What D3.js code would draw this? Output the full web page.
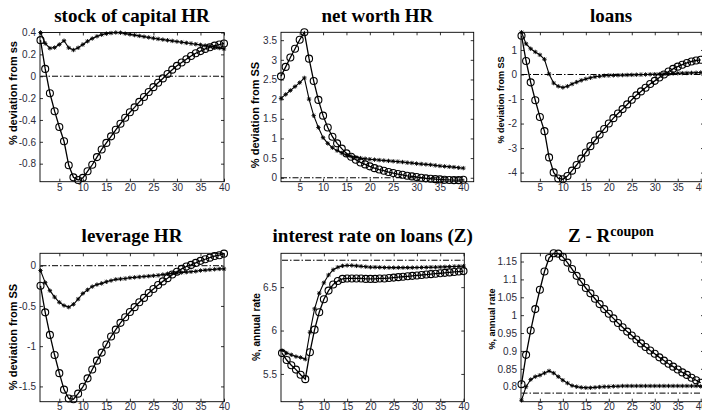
<!DOCTYPE html>
<html><head><meta charset="utf-8">
<script src="https://cdn.jsdelivr.net/npm/d3@7"></script>
<style>
html,body{margin:0;padding:0;background:#fff;}
svg{display:block;}
</style></head>
<body>
<svg id="chart" width="702" height="412"></svg>
<script>
// ---- data ----
const periods = d3.range(1, 41);
const xTicks = [5,10,15,20,25,30,35,40];

const capA = [0.33,0.067,-0.156,-0.32,-0.464,-0.595,-0.815,-0.925,-0.95,-0.93,-0.87,-0.81,-0.74,-0.67,-0.61,-0.55,-0.49,-0.435,-0.38,-0.33,-0.285,-0.235,-0.19,-0.145,-0.10,-0.06,-0.02,0.02,0.06,0.095,0.125,0.155,0.185,0.21,0.23,0.25,0.265,0.28,0.29,0.30];
const capB = [0.40,0.30,0.256,0.262,0.29,0.325,0.26,0.24,0.26,0.29,0.32,0.345,0.365,0.38,0.39,0.395,0.40,0.398,0.39,0.383,0.376,0.369,0.362,0.355,0.348,0.341,0.335,0.329,0.323,0.317,0.311,0.305,0.299,0.293,0.287,0.281,0.274,0.267,0.258,0.25];
const capTicks = [-0.8,-0.6,-0.4,-0.2,0,0.2,0.4];

const nwA = [2.58,2.82,3.06,3.28,3.51,3.70,3.03,2.46,1.98,1.58,1.28,1.045,0.875,0.74,0.62,0.535,0.46,0.39,0.34,0.29,0.245,0.21,0.18,0.145,0.12,0.095,0.075,0.05,0.035,0.02,0.0,-0.015,-0.025,-0.035,-0.04,-0.05,-0.055,-0.06,-0.06,-0.05];
const nwB = [2.02,2.12,2.22,2.32,2.42,2.54,2.0,1.58,1.28,1.02,0.875,0.765,0.69,0.63,0.58,0.545,0.52,0.50,0.485,0.47,0.46,0.45,0.44,0.43,0.42,0.41,0.40,0.385,0.375,0.36,0.35,0.34,0.33,0.315,0.30,0.29,0.28,0.27,0.255,0.245];
const nwTicks = [0,0.5,1,1.5,2,2.5,3,3.5];

const loansA = [1.58,0.55,-0.32,-1.05,-1.73,-2.31,-3.38,-3.99,-4.24,-4.27,-4.14,-3.92,-3.69,-3.43,-3.18,-2.92,-2.69,-2.45,-2.22,-2.0,-1.78,-1.59,-1.41,-1.22,-1.03,-0.85,-0.69,-0.54,-0.39,-0.26,-0.12,0.0,0.12,0.23,0.32,0.40,0.47,0.53,0.57,0.6];
const loansB = [1.72,1.25,1.05,0.92,0.80,0.62,0.02,-0.35,-0.48,-0.53,-0.48,-0.39,-0.31,-0.24,-0.18,-0.135,-0.095,-0.07,-0.05,-0.04,-0.035,-0.03,-0.025,-0.02,-0.015,-0.01,-0.005,0.0,0.005,0.01,0.015,0.02,0.03,0.04,0.05,0.055,0.06,0.065,0.07,0.08];
const loansTicks = [-4,-3,-2,-1,0,1];

const levA = [-0.25,-0.58,-0.86,-1.11,-1.335,-1.54,-1.65,-1.66,-1.59,-1.505,-1.40,-1.29,-1.18,-1.08,-0.98,-0.88,-0.795,-0.71,-0.64,-0.575,-0.515,-0.455,-0.40,-0.34,-0.29,-0.24,-0.195,-0.155,-0.11,-0.075,-0.04,-0.01,0.01,0.035,0.06,0.08,0.10,0.12,0.13,0.15];
const levB = [-0.06,-0.21,-0.31,-0.39,-0.455,-0.495,-0.515,-0.48,-0.415,-0.345,-0.30,-0.26,-0.235,-0.22,-0.20,-0.185,-0.17,-0.165,-0.16,-0.15,-0.145,-0.14,-0.135,-0.13,-0.125,-0.12,-0.11,-0.1,-0.095,-0.09,-0.085,-0.08,-0.075,-0.07,-0.06,-0.055,-0.05,-0.045,-0.04,-0.04];
const levTicks = [-1.5,-1,-0.5,0];

const rateA = [5.74,5.66,5.60,5.55,5.49,5.44,5.75,6.01,6.21,6.36,6.46,6.53,6.57,6.595,6.60,6.60,6.60,6.60,6.595,6.595,6.595,6.60,6.60,6.605,6.61,6.615,6.62,6.625,6.63,6.635,6.64,6.645,6.65,6.655,6.66,6.665,6.67,6.675,6.68,6.685];
const rateB = [5.77,5.74,5.72,5.70,5.69,5.67,5.98,6.25,6.43,6.55,6.64,6.70,6.73,6.745,6.75,6.75,6.745,6.74,6.735,6.73,6.73,6.728,6.726,6.725,6.725,6.725,6.725,6.725,6.725,6.726,6.727,6.728,6.729,6.73,6.732,6.734,6.736,6.738,6.74,6.742];
const rateSS = 6.81;
const rateTicks = [5.5,6,6.5];

const spreadA = [0.807,0.889,0.957,1.017,1.071,1.122,1.160,1.173,1.172,1.163,1.147,1.129,1.110,1.093,1.076,1.061,1.046,1.031,1.017,1.004,0.991,0.978,0.966,0.954,0.943,0.932,0.921,0.911,0.901,0.892,0.882,0.873,0.864,0.856,0.848,0.840,0.833,0.825,0.818,0.811];
const spreadB = [0.762,0.80,0.82,0.828,0.832,0.838,0.844,0.838,0.828,0.818,0.81,0.803,0.80,0.798,0.797,0.797,0.798,0.799,0.80,0.80,0.801,0.801,0.802,0.802,0.802,0.802,0.802,0.802,0.802,0.802,0.802,0.802,0.802,0.802,0.802,0.802,0.802,0.802,0.802,0.801];
const spreadSS = 0.782;
const spreadTicks = [0.8,0.85,0.9,0.95,1,1.05,1.1,1.15];

const titles = ["stock of capital HR","net worth HR","loans","leverage HR","interest rate on loans (Z)","Z - R"];
const yLabels = ["% deviation from ss","% deviation from SS","% deviation from SS","% deviation from SS","%, annual rate","%, annual rate"];

// ---- layout ----
const panels = [
  {a:capA, b:capB, ref:0, ticks:capTicks, ydom:[-0.965,0.4], xr:[40.5,224], box:[40,224], yr:[32.5,181.7], ly:[13,93,11]},
  {a:nwA, b:nwB, ref:0, ticks:nwTicks, ydom:[-0.1,3.7], xr:[281,463.3], box:[281,473.7], yr:[32.3,181.7], ly:[255,115,11]},
  {a:loansA, b:loansB, ref:0, ticks:loansTicks, ydom:[-4.37,1.72], xr:[521.5,700.7], box:[521,704], yr:[32.3,181.7], ly:[501,100,9]},
  {a:levA, b:levB, ref:0, ticks:levTicks, ydom:[-1.69,0.154], xr:[40.5,224], box:[40,224], yr:[253.3,401.7], ly:[13,337,11]},
  {a:rateA, b:rateB, ref:rateSS, ticks:rateTicks, ydom:[5.18,6.89], xr:[282,463.5], box:[281,464.3], yr:[253.3,401.7], ly:[256,327,10]},
  {a:spreadA, b:spreadB, ref:spreadSS, ticks:spreadTicks, ydom:[0.758,1.173], xr:[521.5,700.7], box:[521,704], yr:[253.3,401.7], ly:[492,319,9]}
];

const svg = d3.select("#chart");
const tickColor = "#2b2b3a";
const star = "M-2.2,0L2.2,0M0,-2.2L0,2.2M-1.6,-1.6L1.6,1.6M-1.6,1.6L1.6,-1.6";

panels.forEach((p, i) => {
  const x = d3.scaleLinear().domain([1,40]).range(p.xr);
  const y = d3.scaleLinear().domain(p.ydom).range([p.yr[1], p.yr[0]]);
  const g = svg.append("g");
  const [bl, br] = p.box, [bt, bb] = p.yr;

  // box
  g.append("rect").attr("x", bl).attr("y", bt).attr("width", br-bl).attr("height", bb-bt)
    .attr("fill","none").attr("stroke","#000").attr("stroke-width",0.9);

  const fmt = v => String(+v.toFixed(2));
  // axes
  const ax = g.append("g").attr("transform",`translate(0,${bb})`)
    .call(d3.axisBottom(x).tickValues(xTicks).tickSize(-3).tickSizeOuter(0).tickPadding(i < 3 ? 2.5 : 1.5).tickFormat(d3.format("d")));
  const axT = g.append("g").attr("transform",`translate(0,${bt})`)
    .call(d3.axisTop(x).tickValues(xTicks).tickSize(-3).tickSizeOuter(0).tickFormat(""));
  const ay = g.append("g").attr("transform",`translate(${bl},0)`)
    .call(d3.axisLeft(y).tickValues(p.ticks).tickSize(-3).tickSizeOuter(0).tickPadding(4).tickFormat(fmt));
  const ayR = g.append("g").attr("transform",`translate(${br},0)`)
    .call(d3.axisRight(y).tickValues(p.ticks).tickSize(-3).tickSizeOuter(0).tickFormat(""));
  [ax, axT, ay, ayR].forEach(a => {
    a.select(".domain").remove();
    a.selectAll(".tick line").attr("stroke","#000").attr("stroke-width",0.8);
    a.selectAll("text").attr("fill",tickColor).style("font-family","'Liberation Sans', Arial, sans-serif").style("font-size","10px");
  });

  // reference dash-dot
  g.append("line").attr("x1", x(1)).attr("x2", x(40)).attr("y1", y(p.ref)).attr("y2", y(p.ref))
    .attr("stroke","#000").attr("stroke-width",1).attr("stroke-dasharray","6,2,1.5,2");

  const line = d3.line().x((d,j)=>x(periods[j])).y(d=>y(d));
  g.append("path").datum(p.b).attr("d", line).attr("fill","none").attr("stroke","#000").attr("stroke-width",1.1);
  g.append("path").datum(p.a).attr("d", line).attr("fill","none").attr("stroke","#000").attr("stroke-width",1.3);

  g.selectAll(".st").data(p.b).join("path").attr("class","st")
    .attr("transform",(d,j)=>`translate(${x(periods[j])},${y(d)})`)
    .attr("d", star).attr("stroke","#000").attr("stroke-width",0.9).attr("fill","none");
  g.selectAll(".ci").data(p.a).join("circle").attr("class","ci")
    .attr("cx",(d,j)=>x(periods[j])).attr("cy",d=>y(d)).attr("r",3.5)
    .attr("fill","none").attr("stroke","#000").attr("stroke-width",1.1);

  // title
  const cx = (bl + Math.min(br, 701)) / 2;
  const ty = i < 3 ? 22 : 242;
  const t = g.append("text").attr("x", cx).attr("y", ty).attr("text-anchor","middle")
    .style("font-family","'Liberation Serif', 'Times New Roman', serif").style("font-weight","bold").style("font-size","19px")
    .attr("fill","#000").text(titles[i]);
  if (i === 5) {
    t.append("tspan").attr("dy", -6).style("font-size","14px").text("coupon");
  }

  // y label
  g.append("text").attr("transform",`translate(${p.ly[0]},${p.ly[1]}) rotate(-90)`)
    .attr("text-anchor","middle").attr("dominant-baseline","central")
    .style("font-family","'Liberation Sans', Arial, sans-serif").style("font-weight","bold").style("font-size", p.ly[2]+"px")
    .attr("fill","#000").text(yLabels[i]);
});
</script>
</body></html>
